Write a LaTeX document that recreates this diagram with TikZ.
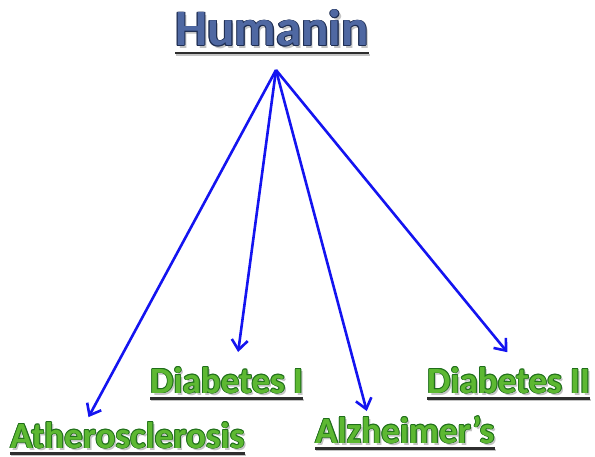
\documentclass[tikz,border=0pt]{standalone}
\usepackage{fontspec}
\setmainfont{Carlito}
\usetikzlibrary{arrows.meta}
\definecolor{titlefill}{HTML}{4F68A2}
\definecolor{titleline}{HTML}{1F2E52}
\definecolor{greenfill}{HTML}{5DB832}
\definecolor{greenline}{HTML}{1F6E1A}
\definecolor{shadowc}{HTML}{C4C4C4}
\definecolor{ulc}{HTML}{2E2E2E}
\definecolor{arrowc}{HTML}{1414F0}
\newcommand\oc[4]{\makebox[0pt][l]{\color{#3}\kern#1\raisebox{#2}{#4}}}
\newcommand\outl[5]{% fill, outline, width, diag, text
  \oc{2.2pt}{-2.2pt}{shadowc}{#5}%
  \oc{#3}{0pt}{#2}{#5}\oc{-#3}{0pt}{#2}{#5}%
  \oc{0pt}{#3}{#2}{#5}\oc{0pt}{-#3}{#2}{#5}%
  \oc{#4}{#4}{#2}{#5}\oc{-#4}{#4}{#2}{#5}%
  \oc{#4}{-#4}{#2}{#5}\oc{-#4}{-#4}{#2}{#5}%
  {\color{#1}#5}}
\tikzset{
  lbl/.style={anchor=base west, inner sep=0pt, font=\bfseries\fontsize{37}{40}\selectfont},
  ttl/.style={anchor=base west, inner sep=0pt, font=\bfseries\fontsize{51}{56}\selectfont},
  uline/.style={line width=2.6pt, draw=ulc},
  ushadow/.style={line width=2pt, draw=shadowc},
  arr/.style={draw=arrowc, line width=2.6pt, -{Straight Barb[length=10pt,width=16pt,line width=2.6pt]}, shorten >=1pt}
}
\begin{document}
\begin{tikzpicture}[x=1pt,y=-1pt]
\useasboundingbox (0,0) rectangle (595,457);
% title
\node[ttl] (hum) at (175,46) {\outl{titlefill}{titleline}{0.9pt}{0.64pt}{Humanin}};
% labels
\node[lbl] (ath) at (10,448) {\outl{greenfill}{greenline}{0.9pt}{0.64pt}{Atherosclerosis}};
\node[lbl] (dia1) at (150,393) {\outl{greenfill}{greenline}{0.9pt}{0.64pt}{Diabetes I}};
\node[lbl] (alz) at (315,443) {\outl{greenfill}{greenline}{0.9pt}{0.64pt}{Alzheimer’s}};
\node[lbl] (dia2) at (427,393) {\outl{greenfill}{greenline}{0.9pt}{0.64pt}{Diabetes II}};
% underlines
\foreach \n/\d in {hum/7, ath/5.5, dia1/5.5, alz/5.5, dia2/5.5} {
  \draw[ushadow] ([shift={(1.2,\d+1.8)}]\n.base west) -- ([shift={(1.2,\d+1.8)}]\n.base east);
  \draw[uline] ([shift={(0,\d)}]\n.base west) -- ([shift={(0,\d)}]\n.base east);
}
% arrows
\coordinate (src) at (276,70);
\coordinate (tath) at (88,418);
\coordinate (tdia1) at (238,353);
\coordinate (talz) at (367,412);
\coordinate (tdia2) at (508,353);
\draw[arr] (src) -- (tath);
\draw[arr] (src) -- (tdia1);
\draw[arr] (src) -- (talz);
\draw[arr] (src) -- (tdia2);
\end{tikzpicture}
\end{document}
